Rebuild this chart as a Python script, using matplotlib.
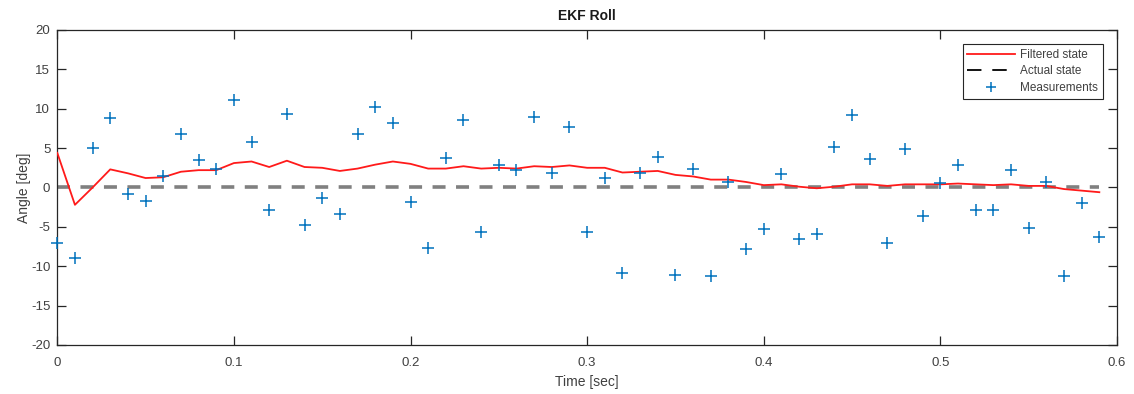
import matplotlib.pyplot as plt
from matplotlib.lines import Line2D
import numpy as np

plt.rcParams['font.family'] = ['Liberation Sans', 'DejaVu Sans']
plt.rcParams['axes.unicode_minus'] = False

# time samples, 10 ms step
t = np.arange(60) * 0.01

measurements = [-7.0, -9.0, 5.0, 8.8, -0.8, -1.7, 1.5, 6.8, 3.5, 2.4,
                11.1, 5.8, -2.8, 9.3, -4.8, -1.3, -3.4, 6.8, 10.2, 8.2,
                -1.9, -7.7, 3.7, 8.6, -5.6, 2.8, 2.2, 9.0, 1.9, 7.7,
                -5.6, 1.2, -10.9, 1.9, 3.9, -11.1, 2.3, -11.2, 0.7, -7.8,
                -5.3, 1.7, -6.6, -5.9, 5.2, 9.2, 3.6, -7.1, 4.9, -3.6,
                0.6, 2.9, -2.9, -2.9, 2.2, -5.1, 0.7, -11.2, -2.0, -6.3]

filtered = [4.4, -2.2, 0.0, 2.3, 1.8, 1.2, 1.3, 2.0, 2.2, 2.2,
            3.1, 3.3, 2.6, 3.4, 2.6, 2.5, 2.1, 2.4, 2.9, 3.3,
            3.0, 2.4, 2.4, 2.7, 2.4, 2.5, 2.4, 2.7, 2.6, 2.8,
            2.5, 2.5, 1.9, 2.0, 2.1, 1.6, 1.4, 1.0, 1.0, 0.7,
            0.3, 0.4, 0.1, -0.1, 0.1, 0.4, 0.4, 0.2, 0.4, 0.4,
            0.4, 0.5, 0.4, 0.3, 0.4, 0.2, 0.2, -0.2, -0.4, -0.6]

actual = [0.0] * 60

axis_col = '#262626'
text_col = '#404040'

fig = plt.figure(figsize=(11.34, 3.94), dpi=100)
ax = fig.add_axes([0.0505, 0.1244, 0.9345, 0.7995])

ax.plot(t, filtered, color='#ff1a1a', lw=1.3, zorder=3)
ax.plot(t, actual, color='#808080', lw=2.6, dashes=(3.6, 2.9), zorder=2)
ax.plot(t, measurements, ls='none', marker='+', ms=8, mew=1.1,
        color='#0072BD', zorder=4, clip_on=False)

ax.set_xlim(0, 0.6)
ax.set_ylim(-20, 20)
ax.set_xticks([0, 0.1, 0.2, 0.3, 0.4, 0.5, 0.6])
ax.set_xticklabels(['0', '0.1', '0.2', '0.3', '0.4', '0.5', '0.6'])
ax.set_yticks(np.arange(-20, 21, 5))

for s in ax.spines.values():
    s.set_color(axis_col)
    s.set_linewidth(0.9)
ax.tick_params(direction='in', length=6.5, width=0.9, color=axis_col,
               labelcolor=text_col, labelsize=9.5, top=True, right=True, pad=5)
ax.tick_params(axis='x', pad=9)

ax.set_title('EKF Roll', fontsize=10, fontweight='bold', color='#1a1a1a', pad=7)
ax.set_xlabel('Time [sec]', fontsize=10, color=text_col, labelpad=4)
ax.set_ylabel('Angle [deg]', fontsize=10, color=text_col, labelpad=0)

handles = [Line2D([], [], color='#ff1a1a', lw=1.3),
           Line2D([], [], color='black', lw=1.3, dashes=(8, 6)),
           Line2D([], [], ls='none', marker='+', ms=7, mew=1.1, color='#0072BD')]
leg = ax.legend(handles, ['Filtered state', 'Actual state', 'Measurements'],
                loc='upper right', bbox_to_anchor=(0.9868, 0.9556),
                fontsize=8.5, frameon=True, fancybox=False, framealpha=1,
                edgecolor=axis_col, handlelength=4.0, handletextpad=0.5,
                borderpad=0.4, labelspacing=0.4, borderaxespad=0)
leg.get_frame().set_linewidth(0.8)
for txt in leg.get_texts():
    txt.set_color(text_col)

fig.savefig('out.png', dpi=100)
